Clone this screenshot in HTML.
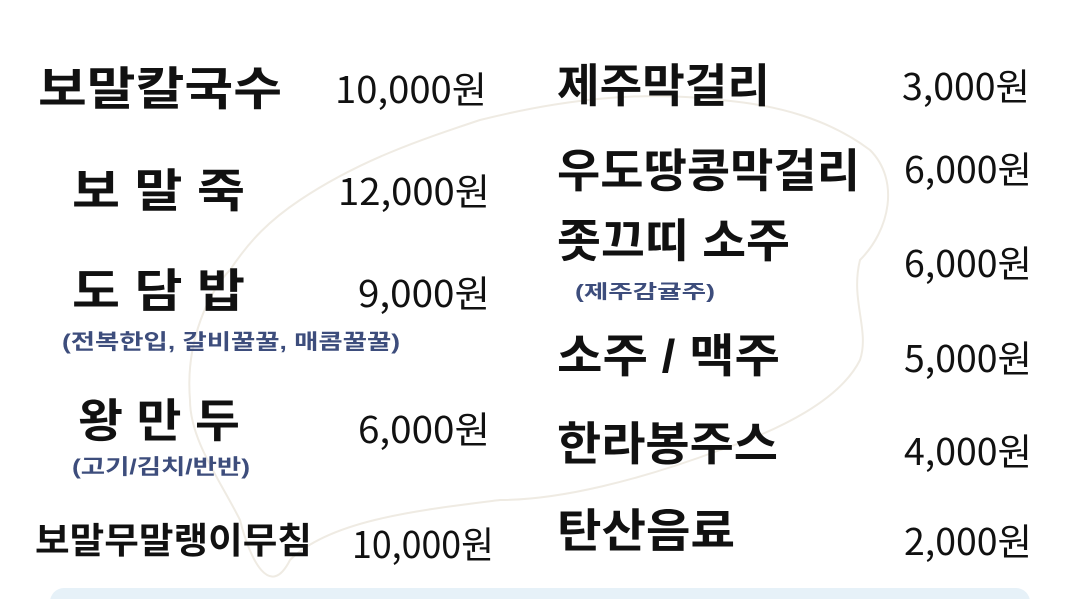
<!DOCTYPE html>
<html><head><meta charset="utf-8">
<style>
html,body{margin:0;padding:0;background:#fff;}
#menu{position:relative;width:1080px;height:599px;overflow:hidden;background:#fff;font-family:"Liberation Sans","Noto Sans CJK KR",sans-serif;}
.t{position:absolute;white-space:nowrap;line-height:1;transform-origin:left center;color:#111;}
.n{font-weight:700;font-size:46px;}
.p{font-weight:400;font-size:37px;font-family:"Noto Sans CJK KR",sans-serif;}
.s{font-weight:700;font-size:21px;color:#3d4d7c;}
#map{position:absolute;left:0;top:0;}
#bar{position:absolute;left:50px;top:588px;width:980px;height:30px;background:#e6f1f8;border-radius:14px;}
</style></head><body>
<div id="menu">
<svg id="map" width="1080" height="599">
<path d="M300 200 C360 160 420 140 480 120 C560 100 640 90 720 100 C780 105 830 120 870 150 C900 180 890 230 860 260 C850 300 870 330 860 360 C840 400 780 430 720 450 C640 480 560 500 500 500 C420 510 330 520 290 560 C270 600 250 560 240 520 C220 480 190 440 190 400 C185 340 210 290 230 270 C250 240 270 220 300 200 Z" fill="none" stroke="#efebe3" stroke-width="2"/>
</svg>
<div class="t n" data-w="244" style="left:38px;top:66px">보말칼국수</div>
<div class="t p" data-w="152" style="left:335px;top:69px">10,000원</div>
<div class="t n" data-w="173" style="left:72px;top:168px">보 말 죽</div>
<div class="t p" data-w="152" style="left:338px;top:171px">12,000원</div>
<div class="t n" data-w="173" style="left:72px;top:268px">도 담 밥</div>
<div class="t p" data-w="132" style="left:358px;top:273px">9,000원</div>
<div class="t s" data-w="338" style="left:62px;top:332px">(전복한입, 갈비꿀꿀, 매콤꿀꿀)</div>
<div class="t n" data-w="162" style="left:78px;top:398px">왕 만 두</div>
<div class="t p" data-w="132" style="left:358px;top:409px">6,000원</div>
<div class="t s" data-w="178" style="left:72px;top:457px">(고기/김치/반반)</div>
<div class="t n" data-w="277" style="left:35px;top:523px;font-size:36px">보말무말랭이무침</div>
<div class="t p" data-w="142" style="left:352px;top:524px">10,000원</div>

<div class="t n" data-w="213" style="left:557px;top:63px">제주막걸리</div>
<div class="t p" data-w="128" style="left:902px;top:66px">3,000원</div>
<div class="t n" data-w="303" style="left:557px;top:148px">우도땅콩막걸리</div>
<div class="t p" data-w="128" style="left:904px;top:149px">6,000원</div>
<div class="t n" data-w="233" style="left:557px;top:218px">좃끄띠 소주</div>
<div class="t s" data-w="140" style="left:575px;top:283px;font-size:19px">(제주감귤주)</div>
<div class="t p" data-w="128" style="left:904px;top:243px">6,000원</div>
<div class="t n" data-w="223" style="left:557px;top:333px">소주 / 맥주</div>
<div class="t p" data-w="128" style="left:904px;top:338px">5,000원</div>
<div class="t n" data-w="221" style="left:557px;top:421px">한라봉주스</div>
<div class="t p" data-w="128" style="left:904px;top:431px">4,000원</div>
<div class="t n" data-w="178" style="left:557px;top:508px">탄산음료</div>
<div class="t p" data-w="128" style="left:904px;top:521px">2,000원</div>
<div id="bar"></div>
</div>
<script>
document.querySelectorAll('.t').forEach(function(el){
  var w=parseFloat(el.getAttribute('data-w'));
  var r=el.getBoundingClientRect().width;
  if(r>0&&w)el.style.transform='scaleX('+(w/r)+')';
});
</script>
</body></html>
